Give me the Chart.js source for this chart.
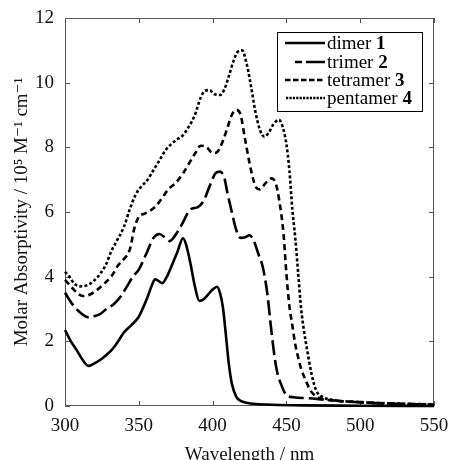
<!DOCTYPE html>
<html><head><meta charset="utf-8">
<script src="https://cdn.jsdelivr.net/npm/chart.js@4/dist/chart.umd.min.js"></script>
<style>html,body{margin:0;padding:0;background:#fff;}</style>
</head><body>
<canvas id="c" width="450" height="460"></canvas>
<script>
// ---- data ----
const dimerX = [300,304,308,312,316,320,324,328,332,336,340,345,350,353,356,359,361,363,366,369,372,376,380,382,385,388,391,394,397,400,403,405,407,409,411,413,416,419,423,430,440,460,500,550];
const dimerY = [2.35,2.0,1.72,1.42,1.24,1.32,1.43,1.58,1.75,2.0,2.28,2.5,2.76,3.05,3.38,3.75,3.92,3.88,3.8,4.0,4.31,4.75,5.19,5.0,4.41,3.7,3.25,3.3,3.45,3.6,3.69,3.5,3.05,2.2,1.3,0.7,0.29,0.16,0.1,0.06,0.04,0.02,0.01,0.0];

const trimerX = [300,305,310,316,320,324,328,333,338,342,346,350,355,360,364,368,371,375,379,385,390,394,398,402,405,408,410,413,416,419,422,425,428,431,434,437,440,443,447,450,455,465,475,490,510,530,550];
const trimerY = [3.5,3.15,2.9,2.74,2.78,2.85,3.0,3.15,3.4,3.7,4.0,4.22,4.7,5.2,5.32,5.2,5.1,5.3,5.6,6.08,6.15,6.35,6.8,7.2,7.25,7.05,6.6,6.0,5.45,5.2,5.22,5.28,5.1,4.7,4.3,3.5,2.25,1.22,0.6,0.34,0.27,0.24,0.2,0.14,0.09,0.06,0.04];

const tetramerX = [300,303,307,312,317,322,327,332,336,340,344,347,350,354,358,362,366,370,375,380,384,388,392,396,400,403,407,410,413,416,419,422,426,429,432,436,440,443,445,448,450,452,454,456,458,460,463,466,469,473,480,500,520,550];
const tetramerY = [3.9,3.75,3.55,3.4,3.45,3.6,3.8,4.05,4.35,4.55,4.85,5.5,5.85,5.95,6.05,6.2,6.45,6.7,6.9,7.2,7.5,7.8,8.05,8.0,7.82,7.85,8.2,8.6,9.0,9.16,9.0,8.25,7.3,6.8,6.7,6.9,7.04,6.85,6.4,5.35,4.1,3.1,2.5,1.9,1.5,1.15,0.8,0.5,0.34,0.23,0.18,0.12,0.08,0.04];

const pentamerX = [300,303,306,310,314,319,324,328,331,335,340,344,348,352,356,360,364,368,372,376,380,384,388,392,395,398,401,405,408,411,414,417,420,423,426,429,432,435,438,441,445,448,450,452,454,456,458,460,462,464,467,470,474,480,500,520,550];
const pentamerY = [4.15,4.0,3.8,3.7,3.72,3.85,4.1,4.4,4.75,5.1,5.55,6.1,6.55,6.8,7.0,7.3,7.6,7.9,8.1,8.25,8.38,8.65,9.0,9.55,9.75,9.77,9.65,9.62,9.8,10.2,10.65,10.95,11.0,10.6,9.9,9.1,8.55,8.33,8.45,8.7,8.85,8.55,8.1,7.3,6.1,5.2,4.1,3.0,2.3,1.75,1.0,0.5,0.29,0.2,0.12,0.08,0.05];

const seriesNames = ['dimer','trimer','tetramer','pentamer'];
const seriesNums = ['1','2','3','4'];
const xTicks = [300,350,400,450,500,550];
const yTicks = [0,2,4,6,8,10,12];

// ---- styles ----
const SERIF = '"Liberation Serif", "DejaVu Serif", serif';
const dashes = [[], [15,5], [6,4], [3,2.2]];
const xsList = [dimerX, trimerX, tetramerX, pentamerX];
const ysList = [dimerY, trimerY, tetramerY, pentamerY];

const datasets = seriesNames.map((n, i) => ({
  label: n + ' ' + seriesNums[i],
  data: xsList[i].map((x, k) => ({x: x, y: ysList[i][k]})),
  borderColor: '#000',
  borderWidth: 2.6,
  borderDash: dashes[i],
  borderCapStyle: 'butt',
  pointRadius: 0,
  fill: false,
  cubicInterpolationMode: 'monotone',
  clip: 6
}));

const framePlugin = {
  id: 'frame',
  beforeDatasetsDraw(chart) {
    const {ctx, chartArea: a, scales: {x, y}} = chart;
    ctx.save();
    ctx.strokeStyle = '#555';
    ctx.lineWidth = 1;
    ctx.strokeRect(Math.round(a.left) + 0.5, Math.round(a.top) + 0.5,
                   Math.round(a.right - a.left) - 1, Math.round(a.bottom - a.top) - 1);
    const L = 5;
    ctx.beginPath();
    xTicks.forEach(v => {
      const px = Math.round(x.getPixelForValue(v)) + 0.5;
      ctx.moveTo(px, a.bottom); ctx.lineTo(px, a.bottom - L);
      ctx.moveTo(px, a.top); ctx.lineTo(px, a.top + L);
    });
    yTicks.forEach(v => {
      const py = Math.round(y.getPixelForValue(v)) + 0.5;
      ctx.moveTo(a.left, py); ctx.lineTo(a.left + L, py);
      ctx.moveTo(a.right, py); ctx.lineTo(a.right - L, py);
    });
    ctx.stroke();
    ctx.restore();
  },
  afterDraw(chart) {
    const {ctx} = chart;
    ctx.save();
    // legend box
    const bx = 277, by = 32, bw = 145, bh = 79;
    ctx.fillStyle = '#fff';
    ctx.fillRect(bx, by, bw, bh);
    ctx.strokeStyle = '#000';
    ctx.lineWidth = 1;
    ctx.strokeRect(bx + 0.5, by + 0.5, bw, bh);
    const rowY = [43, 62, 80, 98];
    const sampleDash = [[], [7,4,20,4], [5.5,2.5], [2.2,1.2]];
    const sampleStart = [285, 295, 285, 286];
    chart.data.datasets.forEach((ds, i) => {
      ctx.save();
      ctx.strokeStyle = '#000';
      ctx.lineWidth = 2.6;
      ctx.setLineDash(sampleDash[i]);
      ctx.beginPath();
      ctx.moveTo(sampleStart[i], rowY[i]);
      ctx.lineTo(325, rowY[i]);
      ctx.stroke();
      ctx.restore();
      ctx.fillStyle = '#000';
      ctx.textBaseline = 'middle';
      ctx.textAlign = 'left';
      ctx.font = '19px ' + SERIF;
      const tx = 327;
      const name = seriesNames[i] + ' ';
      ctx.fillText(name, tx, rowY[i] + 1);
      const w = ctx.measureText(name).width;
      ctx.font = 'bold 19px ' + SERIF;
      ctx.fillText(seriesNums[i], tx + w, rowY[i] + 1);
    });
    ctx.restore();
  }
};

new Chart(document.getElementById('c'), {
  type: 'line',
  data: {datasets: datasets},
  options: {
    responsive: false,
    animation: false,
    devicePixelRatio: 1,
    layout: {padding: {top: 18, right: 16, left: 0, bottom: 0}},
    plugins: {legend: {display: false}, tooltip: {enabled: false}},
    scales: {
      x: {
        type: 'linear', min: 300, max: 550,
        afterBuildTicks(s) { s.ticks = xTicks.map(v => ({value: v})); },
        afterFit(s) { s.height = 54; s.paddingLeft = 0; s.paddingRight = 0; },
        grid: {display: false, drawTicks: false},
        border: {display: false},
        ticks: {color: '#111', font: {family: SERIF, size: 19}, padding: 9, maxRotation: 0},
        title: {display: true, text: 'Wavelength / nm', color: '#111',
                font: {family: SERIF, size: 19, lineHeight: 1}, padding: {top: 0, bottom: -5}}
      },
      y: {
        type: 'linear', min: 0, max: 12,
        afterBuildTicks(s) { s.ticks = yTicks.map(v => ({value: v})); },
        afterFit(s) { s.width = 65; s.paddingTop = 0; s.paddingBottom = 0; },
        grid: {display: false, drawTicks: false},
        border: {display: false},
        ticks: {color: '#111', font: {family: SERIF, size: 19}, padding: 11},
        title: {display: true, text: 'Molar Absorptivity / 10\u2075 M\u207B\u00B9 cm\u207B\u00B9', color: '#111',
                font: {family: SERIF, size: 19, lineHeight: 1}, padding: {top: 13, bottom: 0}}
      }
    }
  },
  plugins: [framePlugin]
});
</script>
</body></html>
